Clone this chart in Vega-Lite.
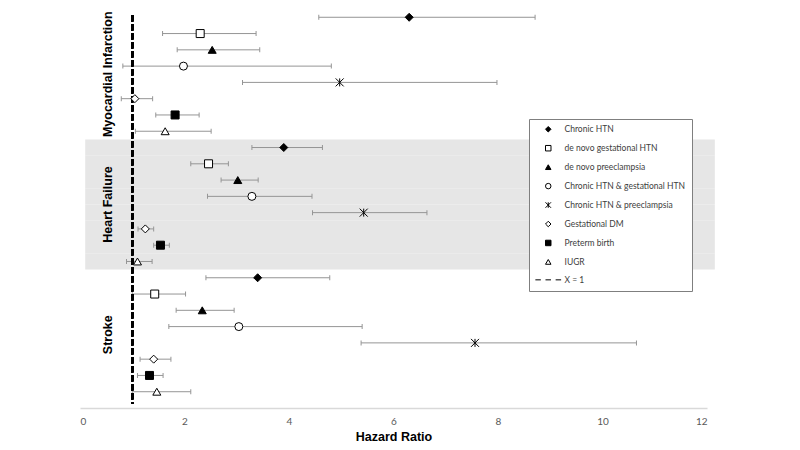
{
  "$schema": "https://vega.github.io/schema/vega-lite/v6.json",
  "width": 627,
  "height": 407,
  "autosize": {"type": "none"},
  "padding": {"left": 80, "top": 1, "right": 93, "bottom": 42},
  "background": "white",
  "config": {
    "view": {"stroke": null},
    "legend": {
      "title": null,
      "orient": "none",
      "legendX": 449,
      "legendY": 118,
      "padding": 6,
      "symbolOffset": 9,
      "labelOffset": 12,
      "rowPadding": 8.95,
      "symbolSize": 30,
      "symbolStrokeWidth": 1,
      "strokeColor": "#7f7f7f",
      "fillColor": "white",
      "labelFont": "Lato",
      "labelFontSize": 8.5,
      "labelColor": "#404040",
      "labelLimit": 300
    }
  },
  "data": {
    "values": [
      {"group": "Myocardial Infarction", "exposure": "Chronic HTN", "hr": 6.30, "lo": 4.57, "hi": 8.71},
      {"group": "Myocardial Infarction", "exposure": "de novo gestational HTN", "hr": 2.30, "lo": 1.58, "hi": 3.37},
      {"group": "Myocardial Infarction", "exposure": "de novo preeclampsia", "hr": 2.53, "lo": 1.86, "hi": 3.44},
      {"group": "Myocardial Infarction", "exposure": "Chronic HTN & gestational HTN", "hr": 1.98, "lo": 0.82, "hi": 4.81},
      {"group": "Myocardial Infarction", "exposure": "Chronic HTN & preeclampsia", "hr": 4.97, "lo": 3.11, "hi": 7.98},
      {"group": "Myocardial Infarction", "exposure": "Gestational DM", "hr": 1.05, "lo": 0.79, "hi": 1.39},
      {"group": "Myocardial Infarction", "exposure": "Preterm birth", "hr": 1.82, "lo": 1.45, "hi": 2.28},
      {"group": "Myocardial Infarction", "exposure": "IUGR", "hr": 1.63, "lo": 1.06, "hi": 2.51},
      {"group": "Heart Failure", "exposure": "Chronic HTN", "hr": 3.90, "lo": 3.29, "hi": 4.64},
      {"group": "Heart Failure", "exposure": "de novo gestational HTN", "hr": 2.46, "lo": 2.12, "hi": 2.84},
      {"group": "Heart Failure", "exposure": "de novo preeclampsia", "hr": 3.02, "lo": 2.70, "hi": 3.41},
      {"group": "Heart Failure", "exposure": "Chronic HTN & gestational HTN", "hr": 3.29, "lo": 2.44, "hi": 4.44},
      {"group": "Heart Failure", "exposure": "Chronic HTN & preeclampsia", "hr": 5.43, "lo": 4.45, "hi": 6.64},
      {"group": "Heart Failure", "exposure": "Gestational DM", "hr": 1.25, "lo": 1.11, "hi": 1.41},
      {"group": "Heart Failure", "exposure": "Preterm birth", "hr": 1.54, "lo": 1.41, "hi": 1.71},
      {"group": "Heart Failure", "exposure": "IUGR", "hr": 1.10, "lo": 0.89, "hi": 1.38},
      {"group": "Stroke", "exposure": "Chronic HTN", "hr": 3.40, "lo": 2.41, "hi": 4.78},
      {"group": "Stroke", "exposure": "de novo gestational HTN", "hr": 1.43, "lo": 1.00, "hi": 2.02},
      {"group": "Stroke", "exposure": "de novo preeclampsia", "hr": 2.34, "lo": 1.84, "hi": 2.95},
      {"group": "Stroke", "exposure": "Chronic HTN & gestational HTN", "hr": 3.04, "lo": 1.70, "hi": 5.40},
      {"group": "Stroke", "exposure": "Chronic HTN & preeclampsia", "hr": 7.56, "lo": 5.38, "hi": 10.65},
      {"group": "Stroke", "exposure": "Gestational DM", "hr": 1.41, "lo": 1.15, "hi": 1.74},
      {"group": "Stroke", "exposure": "Preterm birth", "hr": 1.33, "lo": 1.10, "hi": 1.59},
      {"group": "Stroke", "exposure": "IUGR", "hr": 1.47, "lo": 1.00, "hi": 2.12}
    ]
  },
  "transform": [
    {"calculate": "datum.group + '|' + datum.exposure", "as": "key"}
  ],
  "encoding": {
    "y": {
      "field": "key",
      "type": "nominal",
      "sort": null,
      "axis": null,
      "scale": {"paddingInner": 0, "paddingOuter": 0.5}
    }
  },
  "layer": [
    {
      "mark": {"type": "rect", "strokeWidth": 0},
      "encoding": {
        "x": {"datum": 0.1, "type": "quantitative"},
        "x2": {"datum": 12.15},
        "fill": {
          "condition": {"test": "datum.group === 'Heart Failure'", "value": "#e6e6e6"},
          "value": "transparent"
        }
      }
    },
    {
      "mark": {"type": "rule", "color": "#959595", "strokeWidth": 1},
      "encoding": {
        "x": {
          "field": "lo",
          "type": "quantitative",
          "scale": {"domain": [0, 12], "nice": false, "zero": false},
          "axis": {
            "values": [0, 2, 4, 6, 8, 10, 12],
            "grid": false,
            "ticks": false,
            "domainColor": "#d9d9d9",
            "domainWidth": 1.5,
            "labelColor": "#595959",
            "labelFont": "Lato",
            "labelFontSize": 10,
            "labelPadding": 8,
            "title": "Hazard Ratio",
            "titleFont": "Liberation Sans",
            "titleFontWeight": "bold",
            "titleFontSize": 12.5,
            "titleColor": "black",
            "titlePadding": 4
          }
        },
        "x2": {"field": "hi"}
      }
    },
    {
      "mark": {"type": "tick", "color": "#959595", "thickness": 1, "size": 5, "opacity": 1},
      "encoding": {"x": {"field": "lo", "type": "quantitative"}}
    },
    {
      "mark": {"type": "tick", "color": "#959595", "thickness": 1, "size": 5, "opacity": 1},
      "encoding": {"x": {"field": "hi", "type": "quantitative"}}
    },
    {
      "mark": {"type": "rule", "color": "black", "strokeWidth": 2, "strokeDash": [6, 3], "yOffset": -2, "y2Offset": 12},
      "encoding": {
        "x": {"datum": 1, "type": "quantitative"},
        "y": {"datum": "Myocardial Infarction|Chronic HTN", "type": "nominal"},
        "y2": {"datum": "Stroke|IUGR"}
      }
    },
    {
      "mark": {"type": "point", "strokeWidth": 1, "size": 64, "opacity": 1},
      "encoding": {
        "x": {"field": "hr", "type": "quantitative"},
        "shape": {
          "field": "exposure",
          "type": "nominal",
          "scale": {
            "domain": ["Chronic HTN", "de novo gestational HTN", "de novo preeclampsia", "Chronic HTN & gestational HTN", "Chronic HTN & preeclampsia", "Gestational DM", "Preterm birth", "IUGR", "X = 1"],
            "range": ["diamond", "square", "triangle-up", "circle", "M-1,-1L1,1M-1,1L1,-1M0,-1L0,1", "diamond", "square", "triangle-up", "M-4.7,0H-2.7M-1,0H1M2.7,0H4.7"]
          },
          "legend": {
            "encode": {
              "symbols": {
                "strokeWidth": {"signal": "datum.label === 'X = 1' ? 2 : 1"}
              }
            }
          }
        },
        "fill": {
          "field": "exposure",
          "type": "nominal",
          "scale": {
            "domain": ["Chronic HTN", "de novo gestational HTN", "de novo preeclampsia", "Chronic HTN & gestational HTN", "Chronic HTN & preeclampsia", "Gestational DM", "Preterm birth", "IUGR", "X = 1"],
            "range": ["black", "white", "black", "white", "transparent", "white", "black", "white", "transparent"]
          },
          "legend": {
            "encode": {
              "symbols": {
                "strokeWidth": {"signal": "datum.label === 'X = 1' ? 2 : 1"}
              }
            }
          }
        },
        "stroke": {
          "field": "exposure",
          "type": "nominal",
          "scale": {
            "domain": ["Chronic HTN", "de novo gestational HTN", "de novo preeclampsia", "Chronic HTN & gestational HTN", "Chronic HTN & preeclampsia", "Gestational DM", "Preterm birth", "IUGR", "X = 1"],
            "range": ["black", "black", "black", "black", "black", "black", "black", "black", "black"]
          },
          "legend": {
            "encode": {
              "symbols": {
                "strokeWidth": {"signal": "datum.label === 'X = 1' ? 2 : 1"}
              }
            }
          }
        }
      }
    },
    {
      "mark": {"type": "text", "angle": 270, "font": "Liberation Sans", "fontWeight": "bold", "fontSize": 12.5, "color": "black", "align": "center", "baseline": "middle"},
      "encoding": {
        "x": {"datum": 0.53, "type": "quantitative"},
        "y": {"field": "key", "type": "nominal", "sort": null, "bandPosition": 1},
        "text": {
          "condition": {"test": "datum.exposure === 'Chronic HTN & gestational HTN'", "field": "group"},
          "value": ""
        }
      }
    }
  ]
}
